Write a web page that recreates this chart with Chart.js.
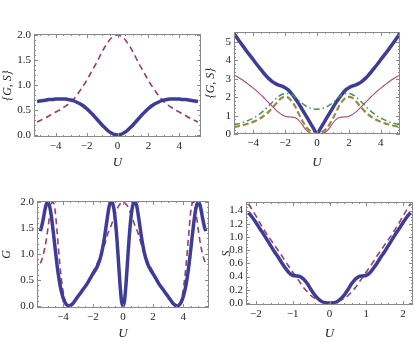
<!DOCTYPE html>
<html>
<head>
<meta charset="utf-8">
<script src="https://cdn.jsdelivr.net/npm/chart.js@4/dist/chart.umd.min.js"></script>
<style>
  body { margin: 0; background: #fff; width: 415px; height: 342px; position: relative; overflow: hidden; }
  canvas { position: absolute; }
</style>
</head>
<body>
<canvas id="c1" width="207" height="171" style="left:0;top:0"></canvas>
<canvas id="c2" width="211" height="171" style="left:204px;top:0"></canvas>
<canvas id="c3" width="212" height="171" style="left:0;top:171px"></canvas>
<canvas id="c4" width="211" height="171" style="left:204px;top:171px"></canvas>
<script>
// ---- data ----
const uWide = [-5.2,-5,-4.8,-4.6,-4.4,-4.2,-4,-3.8,-3.6,-3.4,-3.2,-3,-2.8,-2.6,-2.4,-2.2,-2,-1.8,-1.6,-1.4,-1.2,-1,-0.8,-0.6,-0.4,-0.2,
  0,0.2,0.4,0.6,0.8,1,1.2,1.4,1.6,1.8,2,2.2,2.4,2.6,2.8,3,3.2,3.4,3.6,3.8,4,4.2,4.4,4.6,4.8,5,5.2];

// top left
const gTop = [0.67,0.68,0.69,0.70,0.71,0.71,0.72,0.72,0.72,0.72,0.71,0.70,0.68,0.65,0.62,0.58,0.53,0.47,0.41,0.34,0.27,0.20,0.14,0.08,0.04,0.01,
  0,0.01,0.04,0.08,0.14,0.20,0.27,0.34,0.41,0.47,0.53,0.58,0.62,0.65,0.68,0.70,0.71,0.72,0.72,0.72,0.72,0.71,0.71,0.70,0.69,0.68,0.67];
const sTop = [0.26,0.29,0.32,0.35,0.39,0.42,0.46,0.49,0.53,0.57,0.61,0.66,0.73,0.81,0.90,0.99,1.09,1.20,1.31,1.42,1.54,1.66,1.77,1.86,1.94,1.98,
  2.0,1.98,1.94,1.86,1.77,1.66,1.54,1.42,1.31,1.20,1.09,0.99,0.90,0.81,0.73,0.66,0.61,0.57,0.53,0.49,0.46,0.42,0.39,0.35,0.32,0.29,0.26];

// top right
const thickTR = [5.46,5.22,4.98,4.74,4.50,4.28,4.05,3.82,3.60,3.38,3.18,3.00,2.85,2.74,2.66,2.60,2.52,2.40,2.20,1.98,1.72,1.44,1.15,0.86,0.57,0.28,
  0,0.28,0.57,0.86,1.15,1.44,1.72,1.98,2.20,2.40,2.52,2.60,2.66,2.74,2.85,3.00,3.18,3.38,3.60,3.82,4.05,4.28,4.50,4.74,4.98,5.22,5.46];
const thinTR = [3.22,3.12,3.01,2.90,2.77,2.64,2.50,2.36,2.20,2.04,1.86,1.68,1.50,1.33,1.18,1.05,0.97,0.93,0.92,0.90,0.80,0.60,0.35,0.15,0.05,0.01,
  0,0.01,0.05,0.15,0.35,0.60,0.80,0.90,0.92,0.93,0.97,1.05,1.18,1.33,1.50,1.68,1.86,2.04,2.20,2.36,2.50,2.64,2.77,2.90,3.01,3.12,3.22];
const dashTR = [0.38,0.41,0.45,0.49,0.54,0.60,0.66,0.74,0.83,0.94,1.07,1.23,1.42,1.62,1.82,1.97,2.02,1.97,1.80,1.55,1.20,0.85,0.55,0.30,0.15,0.05,
  0,0.05,0.15,0.30,0.55,0.85,1.20,1.55,1.80,1.97,2.02,1.97,1.82,1.62,1.42,1.23,1.07,0.94,0.83,0.74,0.66,0.60,0.54,0.49,0.45,0.41,0.38];
const dotDashTR = [0.50,0.54,0.58,0.64,0.70,0.78,0.86,0.96,1.08,1.22,1.38,1.55,1.73,1.90,2.05,2.15,2.20,2.20,2.15,2.03,1.88,1.72,1.58,1.47,1.40,1.36,
  1.35,1.36,1.40,1.47,1.58,1.72,1.88,2.03,2.15,2.20,2.20,2.15,2.05,1.90,1.73,1.55,1.38,1.22,1.08,0.96,0.86,0.78,0.70,0.64,0.58,0.54,0.50];

// bottom left
const uG = [-5.5,-5.4,-5.3,-5.2,-5.1,-5,-4.9,-4.8,-4.7,-4.6,-4.5,-4.4,-4.3,-4.2,-4.1,-4,-3.9,-3.8,-3.7,-3.6,
  -3.5,-3.4,-3.3,-3.2,-3.1,-3,-2.9,-2.8,-2.7,-2.6,-2.5,-2.4,-2.3,-2.2,-2.1,-2,-1.9,-1.8,-1.7,-1.6,
  -1.5,-1.4,-1.3,-1.2,-1.1,-1,-0.9,-0.8,-0.7,-0.6,-0.5,-0.4,-0.3,-0.2,-0.1,0,
  0.1,0.2,0.3,0.4,0.5,0.6,0.7,0.8,0.9,1,1.1,1.2,1.3,1.4,1.5,1.6,1.7,1.8,1.9,2,
  2.1,2.2,2.3,2.4,2.5,2.6,2.7,2.8,2.9,3,3.1,3.2,3.3,3.4,3.5,3.6,3.7,3.8,3.9,4,
  4.1,4.2,4.3,4.4,4.5,4.6,4.7,4.8,4.9,5,5.1,5.2,5.3,5.4,5.5];
const gBL = [1.44,1.54,1.68,1.84,1.96,2.00,1.94,1.80,1.58,1.33,1.07,0.82,0.60,0.42,0.28,0.17,0.09,0.04,0.01,0.00,
  0.01,0.03,0.06,0.10,0.14,0.18,0.22,0.26,0.30,0.34,
  0.38,0.42,0.47,0.52,0.57,0.62,0.66,0.71,0.77,0.84,
  0.93,1.05,1.20,1.38,1.58,1.78,1.94,2.00,1.98,1.86,1.62,1.27,0.85,0.42,0.10,
  0,
  0.10,0.42,0.85,1.27,1.62,1.86,1.98,2.00,1.94,1.78,1.58,1.38,1.20,1.05,0.93,
  0.84,0.77,0.71,0.66,0.62,0.57,0.52,0.47,0.42,0.38,
  0.34,0.30,0.26,0.22,0.18,0.14,0.10,0.06,0.03,0.01,
  0.00,0.01,0.04,0.09,0.17,0.28,0.42,0.60,0.82,1.07,1.33,1.58,1.80,1.94,2.00,1.96,1.84,1.68,1.54,1.44];
const gBLd = [0.82,0.89,0.99,1.12,1.28,1.48,1.70,1.90,2.00,1.97,1.80,1.48,1.13,0.80,0.52,0.30,0.15,0.06,0.01,0.00,
  0.02,0.04,0.07,0.10,0.14,0.18,0.22,0.26,0.30,0.34,
  0.38,0.43,0.48,0.54,0.60,0.66,0.71,0.77,0.83,0.89,
  0.96,1.03,1.11,1.20,1.30,1.40,1.47,1.54,1.62,1.71,1.79,1.86,1.92,1.96,1.99,
  2.0,
  1.99,1.96,1.92,1.86,1.79,1.71,1.62,1.54,1.47,1.40,1.30,1.20,1.11,1.03,0.96,
  0.89,0.83,0.77,0.71,0.66,0.60,0.54,0.48,0.43,0.38,
  0.34,0.30,0.26,0.22,0.18,0.14,0.10,0.07,0.04,0.02,
  0.00,0.01,0.06,0.15,0.30,0.52,0.80,1.13,1.48,1.80,1.97,2.00,1.90,1.70,1.48,1.28,1.12,0.99,0.89,0.82];

// bottom right
const uS = [-2.2,-2.1,-2,-1.9,-1.8,-1.7,-1.6,-1.5,-1.4,-1.3,-1.2,-1.1,-1,-0.9,-0.8,-0.7,-0.6,-0.5,-0.4,-0.3,-0.2,-0.1,
  0,0.1,0.2,0.3,0.4,0.5,0.6,0.7,0.8,0.9,1,1.1,1.2,1.3,1.4,1.5,1.6,1.7,1.8,1.9,2,2.1,2.2];
const sBR = [1.37,1.30,1.22,1.13,1.05,0.96,0.87,0.78,0.70,0.61,0.53,0.46,0.42,0.41,0.40,0.36,0.29,0.20,0.12,0.06,0.02,0.005,
  0,0.005,0.02,0.06,0.12,0.20,0.29,0.36,0.40,0.41,0.42,0.46,0.53,0.61,0.70,0.78,0.87,0.96,1.05,1.13,1.22,1.30,1.37];
const sBRd = [1.50,1.41,1.32,1.22,1.13,1.04,0.96,0.88,0.80,0.72,0.63,0.55,0.47,0.39,0.31,0.23,0.17,0.11,0.07,0.04,0.02,0.005,
  0,0.005,0.02,0.04,0.07,0.11,0.17,0.23,0.31,0.39,0.47,0.55,0.63,0.72,0.80,0.88,0.96,1.04,1.13,1.22,1.32,1.41,1.50];

const xTicksWide = [-4, -2, 0, 2, 4];
const xTicksS = [-2, -1, 0, 1, 2];
const yTicksHalf = [0, 0.5, 1, 1.5, 2];
const yTicksInt = [0, 1, 2, 3, 4, 5];
const yTicksS = [0, 0.2, 0.4, 0.6, 0.8, 1, 1.2, 1.4];

// ---- styling ----
const BLUE = '#3d3d99', PURPLE = '#993d71', OLIVE = '#998b3d', GREEN = '#3d9954';
const SERIF = "'Liberation Serif', 'DejaVu Serif', serif";

const pts = (xs, ys) => xs.map((x, i) => ({ x: x, y: ys[i] }));
const fmt = dec => v => v.toFixed(dec).replace('-', '\u2212');

// frame with inward ticks on all four sides (Mathematica style)
const framePlugin = {
  id: 'frame',
  afterDatasetsDraw(chart, args, opts) {
    const { ctx, chartArea: a, scales: { x, y } } = chart;
    ctx.save();
    ctx.strokeStyle = '#8a8a8a';
    ctx.lineWidth = 1;
    ctx.strokeRect(a.left + 0.5, a.top + 0.5, a.width - 1, a.height - 1);
    const seg = (x1, y1, x2, y2) => { ctx.beginPath(); ctx.moveTo(x1, y1); ctx.lineTo(x2, y2); ctx.stroke(); };
    const xt = (v, len) => {
      const p = Math.round(x.getPixelForValue(v)) + 0.5;
      seg(p, a.bottom, p, a.bottom - len);
      seg(p, a.top, p, a.top + len);
    };
    const yt = (v, len) => {
      const p = Math.round(y.getPixelForValue(v)) + 0.5;
      seg(a.left, p, a.left + len, p);
      seg(a.right, p, a.right - len, p);
    };
    for (let v = Math.ceil(x.min / opts.xMinor) * opts.xMinor; v <= x.max; v += opts.xMinor) xt(v, 2);
    for (let v = Math.ceil(y.min / opts.yMinor) * opts.yMinor; v <= y.max; v += opts.yMinor) yt(v, 2);
    x.ticks.forEach(t => xt(t.value, 4));
    y.ticks.forEach(t => yt(t.value, 4));
    ctx.restore();
  }
};

function line(data, color, width, dash) {
  return {
    data: data, borderColor: color, borderWidth: width, borderDash: dash || [],
    pointRadius: 0, fill: false, cubicInterpolationMode: 'monotone'
  };
}

function makeChart(id, cfg) {
  new Chart(document.getElementById(id), {
    type: 'line',
    data: { datasets: cfg.datasets },
    plugins: [framePlugin],
    options: {
      responsive: false,
      animation: false,
      layout: { padding: cfg.pad },
      plugins: { legend: { display: false }, tooltip: { enabled: false }, frame: { xMinor: cfg.xMinor, yMinor: cfg.yMinor } },
      scales: {
        x: {
          type: 'linear', min: cfg.xr[0], max: cfg.xr[1],
          grid: { display: false, drawTicks: false }, border: { display: false },
          afterBuildTicks: s => { s.ticks = cfg.xTicks.map(v => ({ value: v })); },
          afterFit: s => { s.height = cfg.xH; },
          ticks: { padding: 3, autoSkip: false, color: '#222', font: { family: SERIF, size: 11 }, callback: fmt(0), maxRotation: 0 },
          title: { display: true, text: 'U', color: '#222', padding: { top: 0, bottom: 1 }, font: { family: SERIF, size: 13, style: 'italic' } }
        },
        y: {
          min: cfg.yr[0], max: cfg.yr[1],
          grid: { display: false, drawTicks: false }, border: { display: false },
          afterBuildTicks: s => { s.ticks = cfg.yTicks.map(v => ({ value: v })); },
          afterFit: s => { s.width = cfg.yW; },
          ticks: { padding: 3, autoSkip: false, color: '#222', font: { family: SERIF, size: 11 }, callback: fmt(cfg.yDec) },
          title: { display: true, text: cfg.yTitle, color: '#222', padding: { top: cfg.yTitlePad, bottom: 0 }, font: { family: SERIF, size: 12, style: 'italic' } }
        }
      }
    }
  });
}

makeChart('c1', {
  pad: { left: 0, top: 34, right: 6, bottom: 0 }, yW: 34, xH: 34,
  xr: [-5.4, 5.4], yr: [-0.04, 2.02], xTicks: xTicksWide, yTicks: yTicksHalf, yDec: 1,
  xMinor: 0.5, yMinor: 0.1, yTitle: '{G, S}', yTitlePad: 1,
  datasets: [line(pts(uWide, gTop), BLUE, 3.5), line(pts(uWide, sTop), PURPLE, 1.6, [6, 4])]
});

makeChart('c2', {
  pad: { left: 0, top: 32, right: 15, bottom: 0 }, yW: 30, xH: 37,
  xr: [-5.2, 5.2], yr: [0, 5.55], xTicks: xTicksWide, yTicks: yTicksInt, yDec: 0,
  xMinor: 0.5, yMinor: 0.2, yTitle: '{G, S}', yTitlePad: 0,
  datasets: [
    line(pts(uWide, thinTR), '#a8457e', 1.1),
    line(pts(uWide, dotDashTR), GREEN, 1.5, [6, 3, 1.5, 3]),
    line(pts(uWide, dashTR), OLIVE, 2.2, [6, 3]),
    line(pts(uWide, thickTR), BLUE, 3.5)
  ]
});

makeChart('c3', {
  pad: { left: 0, top: 30, right: 3, bottom: 0 }, yW: 37, xH: 34,
  xr: [-5.72, 5.72], yr: [-0.04, 2.02], xTicks: xTicksWide, yTicks: yTicksHalf, yDec: 1,
  xMinor: 0.5, yMinor: 0.1, yTitle: 'G', yTitlePad: 0,
  datasets: [line(pts(uG, gBL), BLUE, 3.5), line(pts(uG, gBLd), PURPLE, 1.6, [6, 4])]
});

makeChart('c4', {
  pad: { left: 0, top: 31, right: 2, bottom: 0 }, yW: 42, xH: 37,
  xr: [-2.27, 2.27], yr: [-0.03, 1.53], xTicks: xTicksS, yTicks: yTicksS, yDec: 1,
  xMinor: 0.2, yMinor: 0.05, yTitle: 'S', yTitlePad: 16,
  datasets: [line(pts(uS, sBR), BLUE, 3.5), line(pts(uS, sBRd), PURPLE, 1.6, [6, 4])]
});
</script>
</body>
</html>
